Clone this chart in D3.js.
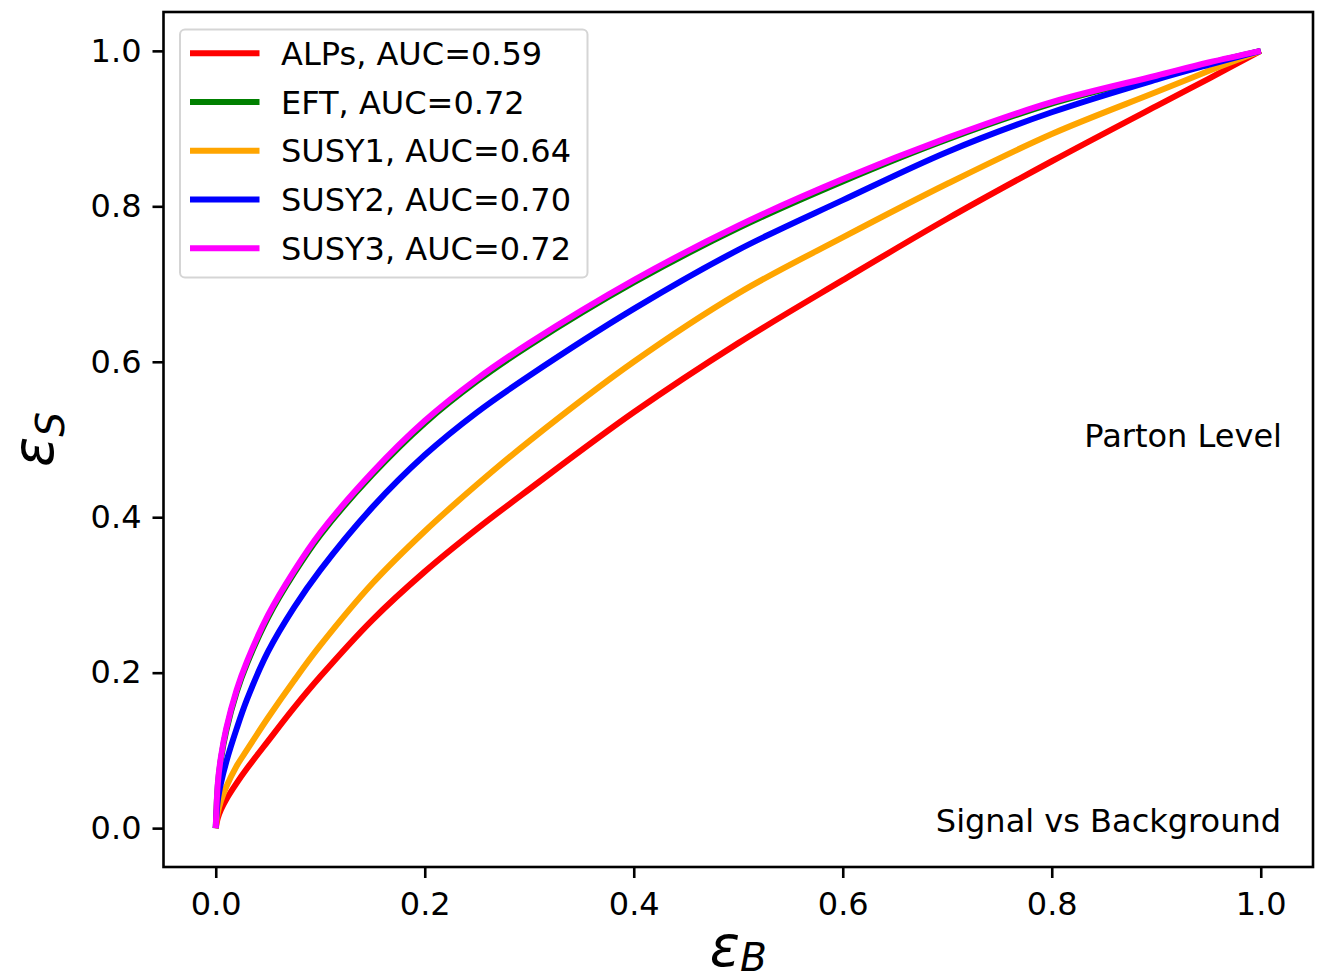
<!DOCTYPE html>
<html>
<head>
<meta charset="utf-8">
<script src="https://cdn.jsdelivr.net/npm/d3@7"></script>
<style>
  html, body { margin: 0; padding: 0; background: #fff; }
  svg { display: block; }
  text { font-family: "DejaVu Sans", sans-serif; fill: #000; }
</style>
</head>
<body>
<svg id="chart" width="1321" height="980"></svg>
<script>
// ---- data ----
const effB = [0, 0.002, 0.005, 0.01, 0.02, 0.03, 0.05, 0.075, 0.1, 0.15, 0.2, 0.25, 0.3, 0.4, 0.5, 0.6, 0.7, 0.8, 0.9, 0.95, 1];
const effS_ALPs  = [0, 0.013, 0.024, 0.037, 0.058, 0.077, 0.112, 0.155, 0.195, 0.268, 0.33, 0.385, 0.436, 0.535, 0.624, 0.705, 0.784, 0.858, 0.929, 0.964, 1];
const effS_EFT   = [0, 0.055, 0.089, 0.125, 0.175, 0.212, 0.271, 0.328, 0.377, 0.455, 0.521, 0.575, 0.621, 0.702, 0.772, 0.832, 0.886, 0.932, 0.967, 0.984, 1];
const effS_SUSY1 = [0, 0.02, 0.035, 0.053, 0.08, 0.101, 0.142, 0.19, 0.235, 0.315, 0.382, 0.442, 0.498, 0.6, 0.688, 0.76, 0.829, 0.893, 0.947, 0.974, 1];
const effS_SUSY2 = [0, 0.036, 0.058, 0.085, 0.128, 0.166, 0.227, 0.284, 0.332, 0.413, 0.48, 0.535, 0.582, 0.668, 0.744, 0.808, 0.87, 0.921, 0.963, 0.982, 1];
const effS_SUSY3 = [0, 0.058, 0.092, 0.128, 0.178, 0.215, 0.274, 0.331, 0.38, 0.458, 0.524, 0.578, 0.624, 0.705, 0.775, 0.835, 0.888, 0.934, 0.968, 0.985, 1];

const seriesNames  = ["ALPs, AUC=0.59", "EFT, AUC=0.72", "SUSY1, AUC=0.64", "SUSY2, AUC=0.70", "SUSY3, AUC=0.72"];
const seriesValues = [effS_ALPs, effS_EFT, effS_SUSY1, effS_SUSY2, effS_SUSY3];
const seriesColors = ["#ff0000", "#008000", "#ffa500", "#0000ff", "#ff00ff"];
const tickValues = [0, 0.2, 0.4, 0.6, 0.8, 1.0];
const annotations = ["Parton Level", "Signal vs Background"];

// ---- layout ----
const svg = d3.select("#chart");
const L = 163.5, R = 1313, T = 12, B = 867;
const x = d3.scaleLinear().domain([-0.05, 1.05]).range([L, R]);
const y = d3.scaleLinear().domain([-0.05, 1.05]).range([B, T]);
const fs = 32;

// curves
const line = d3.line()
  .x(d => x(d[0]))
  .y(d => y(d[1]))
  .curve(d3.curveCatmullRom.alpha(0.5));

const defs = svg.append("defs");
defs.append("clipPath").attr("id", "clip")
  .append("rect").attr("x", L).attr("y", T).attr("width", R - L).attr("height", B - T);

const plot = svg.append("g").attr("clip-path", "url(#clip)");
seriesValues.forEach((vals, i) => {
  plot.append("path")
    .datum(effB.map((b, k) => [b, vals[k]]))
    .attr("d", line)
    .attr("fill", "none")
    .attr("stroke", seriesColors[i])
    .attr("stroke-width", 6)
    .attr("stroke-linejoin", "round")
    .attr("stroke-linecap", "butt");
});

// axes
const fmt = d3.format(".1f");
const xAxis = svg.append("g").attr("transform", `translate(0,${B})`)
  .call(d3.axisBottom(x).tickValues(tickValues).tickFormat(fmt).tickSize(11).tickPadding(14).tickSizeOuter(0));
const yAxis = svg.append("g").attr("transform", `translate(${L},0)`)
  .call(d3.axisLeft(y).tickValues(tickValues).tickFormat(fmt).tickSize(11).tickPadding(11).tickSizeOuter(0));
[xAxis, yAxis].forEach(a => {
  a.select(".domain").remove();
  a.selectAll(".tick line").attr("stroke", "#000").attr("stroke-width", 2.6);
  a.selectAll(".tick text").attr("font-size", fs).attr("font-family", "DejaVu Sans").attr("fill", "#000");
});

// frame
svg.append("rect")
  .attr("x", L).attr("y", T).attr("width", R - L).attr("height", B - T)
  .attr("fill", "none").attr("stroke", "#000").attr("stroke-width", 2.6);

// annotations
svg.append("text").attr("x", 1282).attr("y", 447).attr("text-anchor", "end")
  .attr("font-size", fs).text(annotations[0]);
svg.append("text").attr("x", 1281).attr("y", 832).attr("text-anchor", "end")
  .attr("font-size", fs).text(annotations[1]);

// axis labels (epsilon with subscript)
const lfs = 56;
const xl = svg.append("text").attr("x", (L + R) / 2).attr("y", 966).attr("text-anchor", "middle")
  .attr("font-size", lfs);
xl.append("tspan").attr("font-style", "italic").text("ε");
xl.append("tspan").attr("font-style", "italic").attr("font-size", lfs * 0.7).attr("dy", 5).text("B");

const yl = svg.append("text").attr("transform", `translate(53,${(T + B) / 2}) rotate(-90)`)
  .attr("text-anchor", "middle").attr("font-size", lfs);
yl.append("tspan").attr("font-style", "italic").text("ε");
yl.append("tspan").attr("font-style", "italic").attr("font-size", lfs * 0.7).attr("dy", lfs * 0.2).text("S");

// legend
const lg = svg.append("g");
lg.append("rect").attr("x", 180).attr("y", 29.5).attr("width", 407.5).attr("height", 248)
  .attr("rx", 5).attr("ry", 5)
  .attr("fill", "#fff").attr("fill-opacity", 0.8)
  .attr("stroke", "#d5d5d5").attr("stroke-width", 2);
seriesNames.forEach((name, i) => {
  const yy = 53.3 + i * 48.75;
  lg.append("line").attr("x1", 190).attr("x2", 259.5).attr("y1", yy).attr("y2", yy)
    .attr("stroke", seriesColors[i]).attr("stroke-width", 6);
  lg.append("text").attr("x", 281).attr("y", yy).attr("dy", "0.36em")
    .attr("font-size", fs).text(name);
});
</script>
</body>
</html>
